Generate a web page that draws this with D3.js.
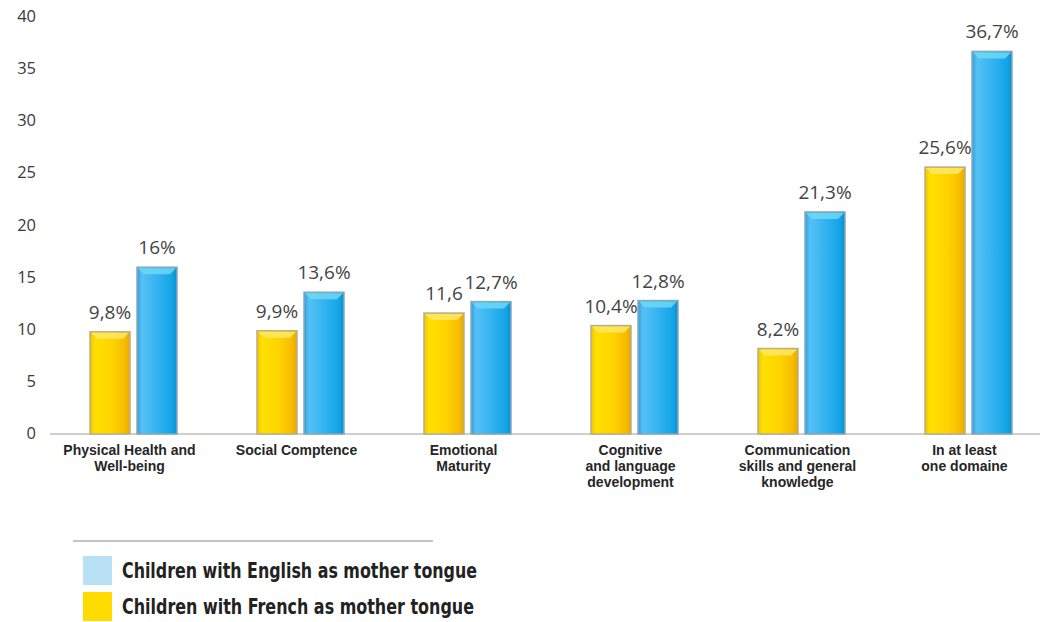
<!DOCTYPE html>
<html lang="en">
  <head>
    <meta charset="UTF-8" />
    <title>Children vulnerable by domain</title>
    <script src="https://d3js.org/d3.v7.min.js"></script>
    <style>
      body {
        margin: 0;
        background: #fff;
      }
      .tick-label {
        font-family: "Open Sans", sans-serif;
        font-size: 16.5px;
        fill: #3a3a3a;
      }
      .cat-label {
        font-family: "Liberation Sans", Arial, sans-serif;
        font-weight: bold;
        font-size: 14px;
        fill: #262626;
      }
      .value-label {
        font-family: "Open Sans", sans-serif;
        font-size: 19px;
        fill: #444;
      }
      .legend-label {
        font-family: "DejaVu Sans Condensed", "DejaVu Sans", sans-serif;
        font-weight: bold;
        font-size: 21px;
        fill: #222;
      }
    </style>
  </head>
  <body>
    <script>
      // categories (multi-line labels)
      const categories = [
        ["Physical Health and", "Well-being"],
        ["Social Comptence"],
        ["Emotional", "Maturity"],
        ["Cognitive", "and language", "development"],
        ["Communication", "skills and general", "knowledge"],
        ["In at least", "one domaine"]
      ];

      // series values
      const frenchValues = [9.8, 9.9, 11.6, 10.4, 8.2, 25.6];
      const englishValues = [16, 13.6, 12.7, 12.8, 21.3, 36.7];

      // value labels as printed on the chart
      const frenchLabels = ["9,8%", "9,9%", "11,6", "10,4%", "8,2%", "25,6%"];
      const englishLabels = ["16%", "13,6%", "12,7%", "12,8%", "21,3%", "36,7%"];

      const yTicks = [0, 5, 10, 15, 20, 25, 30, 35, 40];

      const legendItems = [
        { label: "Children with English as mother tongue", color: "#b9e1f6" },
        { label: "Children with French as mother tongue", color: "#ffdc00" }
      ];

      const width = 1040;
      const height = 622;

      const svg = d3
        .select("body")
        .append("svg")
        .attr("width", width)
        .attr("height", height);

      const x = d3
        .scaleBand()
        .domain(d3.range(categories.length))
        .range([50, 1052]);

      const y = d3.scaleLinear().domain([0, 40]).range([434, 17]);

      const barW = 40;
      const gap = 7;

      // gradients for the bars
      const defs = svg.append("defs");
      function hGrad(id, stops) {
        const g = defs
          .append("linearGradient")
          .attr("id", id)
          .attr("x1", "0%")
          .attr("x2", "100%")
          .attr("y1", "0%")
          .attr("y2", "0%");
        stops.forEach((s) =>
          g.append("stop").attr("offset", s[0]).attr("stop-color", s[1])
        );
      }
      hGrad("gradYellow", [
        ["0%", "#f2c200"],
        ["12%", "#ffe000"],
        ["55%", "#ffd400"],
        ["88%", "#f7bb00"],
        ["100%", "#e8a800"]
      ]);
      hGrad("gradBlue", [
        ["0%", "#2b9fe0"],
        ["12%", "#56c0f5"],
        ["55%", "#2fb2f0"],
        ["88%", "#12a4e6"],
        ["100%", "#0a8fcc"]
      ]);

      // y tick labels
      svg
        .append("g")
        .selectAll("text")
        .data(yTicks)
        .join("text")
        .attr("class", "tick-label")
        .attr("x", 36)
        .attr("y", (d) => y(d) + 5)
        .attr("text-anchor", "end")
        .text((d) => d);

      // baseline
      svg
        .append("line")
        .attr("x1", 50)
        .attr("x2", width)
        .attr("y1", y(0))
        .attr("y2", y(0))
        .attr("stroke", "#cfcfcf")
        .attr("stroke-width", 2);

      const series = [
        {
          values: frenchValues,
          labels: frenchLabels,
          fill: "url(#gradYellow)",
          cap: "#ffe866",
          stroke: "#b8ae8a",
          offset: -gap / 2 - barW
        },
        {
          values: englishValues,
          labels: englishLabels,
          fill: "url(#gradBlue)",
          cap: "#6fd8f5",
          stroke: "#8aa9b8",
          offset: gap / 2
        }
      ];

      const cx = (i) => x(i) + x.bandwidth() / 2;

      series.forEach((s) => {
        const g = svg.append("g");
        g.selectAll("rect.bar")
          .data(s.values)
          .join("rect")
          .attr("class", "bar")
          .attr("x", (d, i) => cx(i) + s.offset)
          .attr("y", (d) => y(d))
          .attr("width", barW)
          .attr("height", (d) => y(0) - y(d))
          .attr("fill", s.fill)
          .attr("stroke", s.stroke)
          .attr("stroke-width", 1.5);

        // light bevel at the top of each bar
        g.selectAll("path.cap")
          .data(s.values)
          .join("path")
          .attr("class", "cap")
          .attr("d", (d, i) => {
            const x0 = cx(i) + s.offset + 1;
            const x1 = x0 + barW - 2;
            const y0 = y(d) + 1;
            return `M${x0},${y0}H${x1}L${x1 - 6},${y0 + 6}H${x0 + 6}Z`;
          })
          .attr("fill", s.cap)
          .attr("opacity", 0.85);

        g.selectAll("text")
          .data(s.values)
          .join("text")
          .attr("class", "value-label")
          .attr("x", (d, i) => cx(i) + s.offset + barW / 2)
          .attr("y", (d) => y(d) - 13)
          .attr("text-anchor", "middle")
          .text((d, i) => s.labels[i]);
      });

      // category labels, one text per line
      const catLines = categories.flatMap((lines, i) =>
        lines.map((t, j) => ({ t, i, j }))
      );
      svg
        .append("g")
        .selectAll("text")
        .data(catLines)
        .join("text")
        .attr("class", "cat-label")
        .attr("x", (d) => cx(d.i) - 4)
        .attr("y", (d) => 455 + d.j * 16)
        .attr("text-anchor", "middle")
        .text((d) => d.t);

      // legend
      svg
        .append("line")
        .attr("x1", 73)
        .attr("x2", 433)
        .attr("y1", 541)
        .attr("y2", 541)
        .attr("stroke", "#8a8a8a")
        .attr("stroke-width", 1);

      const leg = svg
        .append("g")
        .selectAll("g")
        .data(legendItems)
        .join("g")
        .attr("transform", (d, i) => `translate(83, ${556 + i * 36})`);
      leg
        .append("rect")
        .attr("width", 29)
        .attr("height", 29)
        .attr("fill", (d) => d.color);
      leg
        .append("text")
        .attr("class", "legend-label")
        .attr("x", 39)
        .attr("y", 22)
        .attr("textLength", (d, i) => (i === 0 ? 355 : 352))
        .attr("lengthAdjust", "spacingAndGlyphs")
        .text((d) => d.label);
    </script>
  </body>
</html>
